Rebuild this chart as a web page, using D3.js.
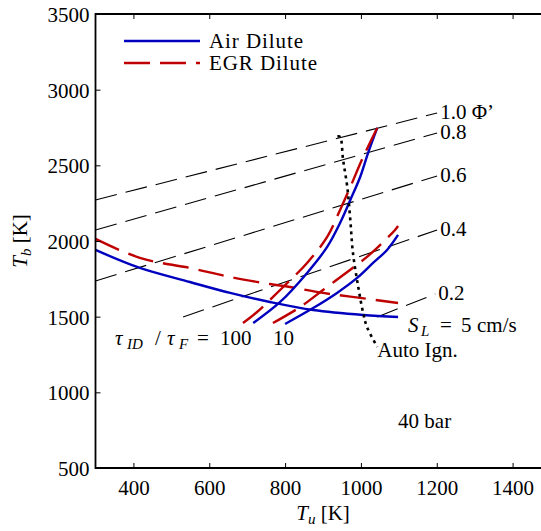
<!DOCTYPE html>
<html>
<head>
<meta charset="utf-8">
<script src="https://cdn.jsdelivr.net/npm/d3@7"></script>
<style>
  body { margin: 0; background: #fff; }
  text { font-family: "Liberation Serif", "DejaVu Serif", serif; font-size: 21px; fill: #000; }
</style>
</head>
<body>
<div id="chart"></div>
<script>
// values (Tu [K], Tb [K])
var xTicks = [400, 600, 800, 1000, 1200, 1400];
var yTicks = [500, 1000, 1500, 2000, 2500, 3000, 3500];

// S_L = 5 cm/s curves
var airSL = [[300,1941],[417,1822],[549,1729],[655,1657],[760,1597],[874,1544],[1006,1511],[1098,1498]];
var egrSL = [[300,2014],[417,1888],[549,1822],[655,1762],[760,1716],[813,1696],[900,1657],[998,1624],[1098,1590]];

// tau_ID / tau_F = 100
var air100 = [[716,1458],[787,1597],[858,1789],[911,1961],[945,2119],[972,2271],[998,2423],[1019,2582],[1043,2747]];
var egr100 = [[689,1458],[726,1531],[795,1696],[858,1855],[911,2027],[945,2205],[972,2357],[1006,2556],[1043,2747]];

// tau_ID / tau_F = 10
var air10 = [[800,1452],[874,1557],[937,1657],[990,1756],[1032,1855],[1069,1941],[1098,2040]];
var egr10 = [[768,1458],[840,1564],[900,1676],[964,1795],[1016,1895],[1059,1994],[1090,2073],[1098,2099]];

// auto ignition limit
var autoIgn = [[938,2690],[945,2688],[953,2536],[964,2357],[972,2139],[979,1921],[993,1696],[1006,1524],[1016,1432],[1043,1300]];

// Phi' lines
var phiLabels = ["1.0 \u03A6\u2019", "0.8", "0.6", "0.4", "0.2"];
var phiLines = [
  [[300,2271],[1201,2846]],
  [[300,2073],[1201,2714]],
  [[300,1736],[1201,2430]],
  [[531,1498],[1201,2073]],
  [[1043,1498],[1196,1650]]
];

var W = 541, H = 531;
var BLUE = "#0000bf", RED = "#bf0000", DASH = "26,10";

var svg = d3.select("#chart").append("svg")
  .attr("width", W).attr("height", H);

var x = d3.scaleLinear().domain([300, 1500]).range([95.5, 550.5]);
var y = d3.scaleLinear().domain([500, 3500]).range([468, 14]);

var line = d3.line()
  .x(function(d) { return x(d[0]); })
  .y(function(d) { return y(d[1]); })
  .curve(d3.curveCatmullRom.alpha(0.5));

var straight = d3.line()
  .x(function(d) { return x(d[0]); })
  .y(function(d) { return y(d[1]); });

// phi lines
svg.selectAll(".phi").data(phiLines).enter().append("path")
  .attr("class", "phi")
  .attr("d", straight)
  .attr("fill", "none").attr("stroke", "#000")
  .attr("stroke-width", 1.1)
  .attr("stroke-dasharray", "22,9");

svg.selectAll(".philab").data(phiLines).enter().append("text")
  .attr("class", "philab")
  .attr("x", function(d) { return x(d[1][0]) + 3; })
  .attr("y", function(d) { return y(d[1][1]) + 6; })
  .text(function(d, i) { return phiLabels[i]; });

function curve(data, color, dashed) {
  svg.append("path").datum(data)
    .attr("d", line)
    .attr("fill", "none")
    .attr("stroke", color)
    .attr("stroke-width", 2.4)
    .attr("stroke-dasharray", dashed ? DASH : null);
}

curve(airSL, BLUE, false);
curve(egrSL, RED, true);
curve(air100, BLUE, false);
curve(egr100, RED, true);
curve(air10, BLUE, false);
curve(egr10, RED, true);

svg.append("path").datum(autoIgn)
  .attr("d", line)
  .attr("fill", "none").attr("stroke", "#000")
  .attr("stroke-width", 2.6)
  .attr("stroke-dasharray", "3,4");

// axes
svg.append("path")
  .attr("d", "M" + x(1500) + "," + y(3500) + "H" + x(300) + "V" + y(500) + "H" + x(1500))
  .attr("fill", "none").attr("stroke", "#000").attr("stroke-width", 1.8);

var xb = svg.append("g").attr("transform", "translate(0," + y(500) + ")")
  .call(d3.axisBottom(x).tickValues(xTicks).tickSize(-5).tickPadding(12).tickFormat(d3.format("d")));
var xt = svg.append("g").attr("transform", "translate(0," + y(3500) + ")")
  .call(d3.axisTop(x).tickValues(xTicks).tickSize(-5).tickFormat(""));
var yl = svg.append("g").attr("transform", "translate(" + x(300) + ",0)")
  .call(d3.axisLeft(y).tickValues(yTicks).tickSize(-5).tickPadding(6).tickFormat(d3.format("d")));
[xb, xt, yl].forEach(function(g) {
  g.select(".domain").remove();
  g.selectAll(".tick line").attr("stroke", "#000").attr("stroke-width", 1);
  g.selectAll(".tick text").attr("font-family", null).attr("font-size", null).attr("fill", "#000");
});
yl.selectAll(".tick text").attr("dy", "0.36em");

// axis titles
var xl = svg.append("text").attr("x", x(900)).attr("y", 520).attr("text-anchor", "middle");
xl.append("tspan").attr("font-style", "italic").text("T");
xl.append("tspan").attr("font-style", "italic").attr("font-size", "15px").attr("dy", 4).text("u");
xl.append("tspan").attr("dy", -4).text(" [K]");

var ylab = svg.append("text")
  .attr("transform", "translate(27," + y(2000) + ") rotate(-90)")
  .attr("text-anchor", "middle");
ylab.append("tspan").attr("font-style", "italic").text("T");
ylab.append("tspan").attr("font-style", "italic").attr("font-size", "15px").attr("dy", 4).text("b");
ylab.append("tspan").attr("dy", -4).text(" [K]");

// legend
var legend = [{ label: "Air Dilute", color: BLUE, dash: null, y: 41 },
              { label: "EGR Dilute", color: RED, dash: DASH, y: 63 }];
var lg = svg.selectAll(".legend").data(legend).enter().append("g").attr("class", "legend");
lg.append("line")
  .attr("x1", 124).attr("x2", 200)
  .attr("y1", function(d) { return d.y; }).attr("y2", function(d) { return d.y; })
  .attr("stroke", function(d) { return d.color; })
  .attr("stroke-width", 2.4)
  .attr("stroke-dasharray", function(d) { return d.dash; });
lg.append("text")
  .attr("x", 209).attr("y", function(d) { return d.y + 7; })
  .attr("textLength", function(d) { return d.label === "Air Dilute" ? 94 : 108; })
  .attr("lengthAdjust", "spacing")
  .text(function(d) { return d.label; });

// annotations
var tau = svg.append("text").attr("y", 345);
tau.append("tspan").attr("x", 115).attr("font-style", "italic").text("\u03C4");
tau.append("tspan").attr("x", 127).attr("font-style", "italic").attr("font-size", "15px").attr("dy", 4).text("ID");
tau.append("tspan").attr("x", 155).attr("dy", -4).text("/");
tau.append("tspan").attr("x", 167).attr("font-style", "italic").text("\u03C4");
tau.append("tspan").attr("x", 179).attr("font-style", "italic").attr("font-size", "15px").attr("dy", 4).text("F");
tau.append("tspan").attr("x", 197).attr("dy", -4).text("=");
tau.append("tspan").attr("x", 220).text("100");

svg.append("text").attr("x", 273).attr("y", 345).text("10");

var sl = svg.append("text").attr("y", 332);
sl.append("tspan").attr("x", 408).attr("font-style", "italic").text("S");
sl.append("tspan").attr("x", 421).attr("font-style", "italic").attr("font-size", "15px").attr("dy", 4).text("L");
sl.append("tspan").attr("x", 440).attr("dy", -4).text("=");
sl.append("tspan").attr("x", 461).text("5");
sl.append("tspan").attr("x", 477).text("cm/s");

svg.append("text").attr("x", x(1043)).attr("y", y(1234)).text("Auto Ign.");
svg.append("text").attr("x", x(1098)).attr("y", y(764)).text("40 bar");
</script>
</body>
</html>
